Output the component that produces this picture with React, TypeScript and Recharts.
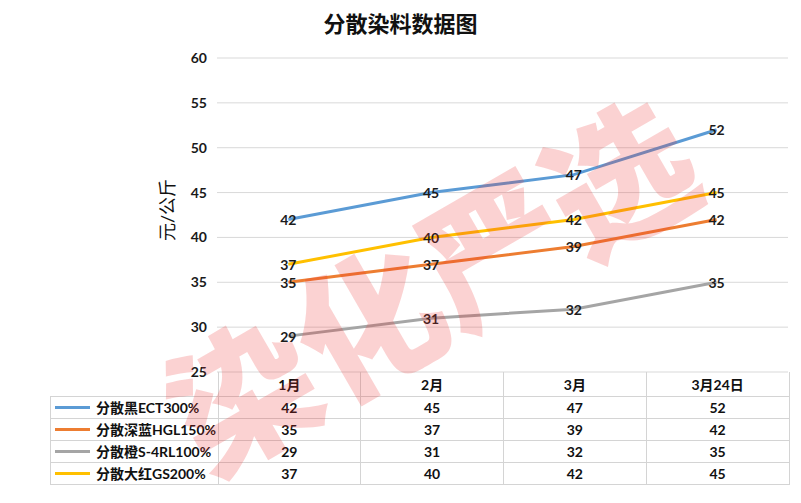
import React from "react";
import { LineChart, Line, XAxis, YAxis, CartesianGrid, LabelList } from "recharts";

const categories = ["1月", "2月", "3月", "3月24日"];
const seriesNames = ["分散黑ECT300%", "分散深蓝HGL150%", "分散橙S-4RL100%", "分散大红GS200%"];
const blackEct = [42, 45, 47, 52];
const navyHgl = [35, 37, 39, 42];
const orangeS4rl = [29, 31, 32, 35];
const redGs = [37, 40, 42, 45];
const yTicks = [25, 30, 35, 40, 45, 50, 55, 60];

const seriesValues = [blackEct, navyHgl, orangeS4rl, redGs];
const colors = ["#5B9BD5", "#ED7D31", "#A5A5A5", "#FFC000"];
const keys = ["s0", "s1", "s2", "s3"];

const data = categories.map((name, i) => {
  const row: Record<string, string | number> = { name };
  seriesValues.forEach((vals, s) => (row[keys[s]] = vals[i]));
  return row;
});

const FONT = "Lato, 'Noto Sans CJK SC', sans-serif";

function PointLabel(props: any) {
  const { x, y, value } = props;
  return (
    <text x={x} y={y} textAnchor="middle" dominantBaseline="central"
      fontSize={14} fontWeight={700} fill="#1c1c1c" fontFamily={FONT}>
      {value}
    </text>
  );
}

const PLOT_LEFT = 217;
const PLOT_RIGHT = 788;
const TABLE_TOP = 372;
const colW = (PLOT_RIGHT - PLOT_LEFT) / categories.length;

export default function App() {
  return (
    <div style={{ position: "absolute", left: 0, top: 0, width: 801, height: 503, background: "#fff", overflow: "hidden", fontFamily: FONT }}>
      <div style={{ position: "absolute", left: 0, top: 6, width: 801, textAlign: "center", fontSize: 22, fontWeight: 700, color: "#111" }}>
        分散染料数据图
      </div>
      <div style={{ position: "absolute", left: 166, top: 210, transform: "translate(-50%,-50%) rotate(-90deg)", fontSize: 18, color: "#111", whiteSpace: "nowrap" }}>
        元/公斤
      </div>
      <LineChart width={801} height={503} data={data}
        margin={{ top: 58, right: 801 - PLOT_RIGHT, bottom: 503 - TABLE_TOP, left: PLOT_LEFT - 60 }}
        style={{ position: "absolute", left: 0, top: 0 }}>
        <CartesianGrid vertical={false} stroke="#d9d9d9" />
        <XAxis dataKey="name" hide padding={{ left: colW / 2, right: colW / 2 }} />
        <YAxis width={60} domain={[25, 60]} ticks={yTicks} axisLine={false} tickLine={false}
          tickSize={0} tickMargin={10} interval={0}
          tick={{ fontSize: 14, fontWeight: 700, fill: "#1a1a1a", fontFamily: FONT }} />
        {keys.map((k, s) => (
          <Line key={k} type="linear" dataKey={k} stroke={colors[s]} strokeWidth={3}
            dot={false} isAnimationActive={false}>
            <LabelList dataKey={k} content={PointLabel} />
          </Line>
        ))}
      </LineChart>
      <table style={{ position: "absolute", left: 50, top: TABLE_TOP, borderCollapse: "collapse", fontSize: 14, fontWeight: 700, color: "#111", tableLayout: "fixed" }}>
        <tbody>
          <tr style={{ height: 24 }}>
            <td style={{ width: PLOT_LEFT - 50, padding: 0 }}></td>
            {categories.map((c) => (
              <td key={c} style={{ width: colW - 1, padding: 0, textAlign: "center", borderLeft: "1px solid #d4d4d4", borderRight: "1px solid #d4d4d4" }}>{c}</td>
            ))}
          </tr>
          {seriesNames.map((n, s) => (
            <tr key={n} style={{ height: 22 }}>
              <td style={{ padding: 0, border: "1px solid #d4d4d4", whiteSpace: "nowrap" }}>
                <span style={{ display: "inline-block", width: 35, height: 3, background: colors[s], verticalAlign: "middle", marginLeft: 4, marginRight: 6 }} />
                <span style={{ verticalAlign: "middle" }}>{n}</span>
              </td>
              {seriesValues[s].map((v, i) => (
                <td key={i} style={{ padding: 0, textAlign: "center", border: "1px solid #d4d4d4" }}>{v}</td>
              ))}
            </tr>
          ))}
        </tbody>
      </table>
      <div style={{ position: "absolute", left: 428, top: 280, transform: "translate(-50%,-50%) rotate(-30deg)", fontSize: 145, fontWeight: 900, lineHeight: 1, color: "rgba(235,50,50,0.22)", whiteSpace: "nowrap", pointerEvents: "none", fontFamily: "'Noto Sans CJK SC', sans-serif" }}>
        染化严选
      </div>
    </div>
  );
}
